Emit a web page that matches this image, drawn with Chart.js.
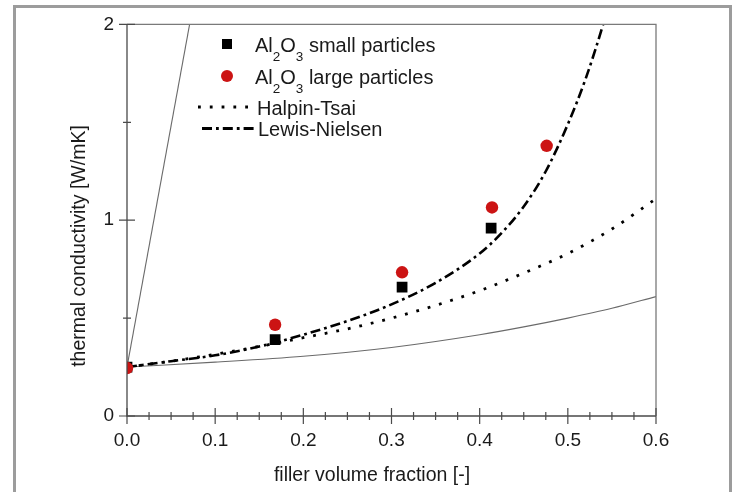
<!DOCTYPE html>
<html>
<head>
<meta charset="utf-8">
<script src="https://cdn.jsdelivr.net/npm/chart.js@4/dist/chart.umd.min.js"></script>
<style>
  html, body { margin: 0; padding: 0; background: #ffffff; }
  #wrap { width: 739px; height: 492px; }
</style>
</head>
<body>
<div id="wrap"><canvas id="c" width="739" height="492"></canvas></div>
<script>
// ---------- data ----------
const phiSmall = [0, 0.168, 0.312, 0.413];
const kSmall   = [0.25, 0.39, 0.658, 0.96];

const phiLarge = [0, 0.168, 0.312, 0.414, 0.476];
const kLarge   = [0.245, 0.466, 0.734, 1.065, 1.38];

const phiHT = [0, 0.05, 0.1, 0.15, 0.2, 0.25, 0.3, 0.35, 0.4, 0.45, 0.5, 0.55, 0.6];
const kHT   = [0.25, 0.28, 0.315, 0.355, 0.40, 0.445, 0.50, 0.565, 0.64, 0.73, 0.83, 0.955, 1.11];

const phiLN = [0, 0.05, 0.1, 0.15, 0.2, 0.25, 0.3, 0.35, 0.4, 0.425, 0.45, 0.475, 0.5, 0.52, 0.54, 0.56];
const kLN   = [0.25, 0.28, 0.31, 0.355, 0.415, 0.485, 0.57, 0.68, 0.83, 0.935, 1.07, 1.25, 1.49, 1.72, 2.0, 2.33];

const phiUpper = [0, 0.071];
const kUpper   = [0.25, 2.0];

const phiLower = [0, 0.1, 0.2, 0.3, 0.4, 0.45, 0.5, 0.55, 0.6];
const kLower   = [0.25, 0.275, 0.305, 0.35, 0.415, 0.455, 0.50, 0.55, 0.61];

const xMajorTicks = [0, 0.1, 0.2, 0.3, 0.4, 0.5, 0.6];
const xMinorTicks = [0.025, 0.05, 0.075, 0.125, 0.15, 0.175, 0.225, 0.25, 0.275,
                     0.325, 0.35, 0.375, 0.425, 0.45, 0.475, 0.525, 0.55, 0.575];
const yMajorTicks = [0, 1, 2];
const yMinorTicks = [0.5, 1.5];

const xTitle = 'filler volume fraction [-]';
const yTitle = 'thermal conductivity [W/mK]';

// legend labels: parts [text, isSubscript]
const legendSmall = [['Al', false], ['2', true], ['O', false], ['3', true], [' small particles', false]];
const legendLarge = [['Al', false], ['2', true], ['O', false], ['3', true], [' large particles', false]];
const legendHT = 'Halpin-Tsai';
const legendLN = 'Lewis-Nielsen';

// ---------- helpers ----------
const pts = (xs, ys) => xs.map((x, i) => ({ x: x, y: ys[i] }));
const FONT = '"Liberation Sans", Arial, Helvetica, sans-serif';
const TXT = '#1a1a1a';
const AXIS = '#4a4a4a';
const RED = '#cc1414';
const HT_DASH = [2.8, 9];
const LN_DASH = [10, 4, 2.8, 4];

const decorPlugin = {
  id: 'decor',
  beforeDraw(chart) {
    const ctx = chart.ctx;
    ctx.save();
    ctx.fillStyle = '#ffffff';
    ctx.fillRect(0, 0, chart.width, chart.height);
    ctx.strokeStyle = '#9c9c9c';
    ctx.lineWidth = 3;
    ctx.strokeRect(14.5, 6.5, 716, 500);
    ctx.restore();
  },
  beforeDatasetsDraw(chart) {
    const a = chart.chartArea;
    chart.ctx.save();
    chart.ctx.beginPath();
    chart.ctx.rect(a.left, a.top, a.right - a.left, a.bottom - a.top);
    chart.ctx.clip();
  },
  afterDatasetsDraw(chart) {
    chart.ctx.restore();
  },
  afterDraw(chart) {
    const ctx = chart.ctx;
    const a = chart.chartArea;
    const xs = chart.scales.x, ys = chart.scales.y;
    ctx.save();
    // axes lines
    ctx.strokeStyle = AXIS;
    ctx.lineWidth = 1.3;
    ctx.beginPath();
    ctx.moveTo(a.left, a.top); ctx.lineTo(a.left, a.bottom); ctx.lineTo(a.right, a.bottom);
    ctx.stroke();
    // top and right frame of plot
    ctx.strokeStyle = '#7a7a7a';
    ctx.lineWidth = 1.3;
    ctx.beginPath();
    ctx.moveTo(a.left, a.top); ctx.lineTo(a.right, a.top); ctx.lineTo(a.right, a.bottom);
    ctx.stroke();
    // crossing ticks
    ctx.strokeStyle = AXIS;
    ctx.lineWidth = 1.2;
    ctx.beginPath();
    xMajorTicks.forEach(v => { const p = xs.getPixelForValue(v); ctx.moveTo(p, a.bottom - 8); ctx.lineTo(p, a.bottom + 8); });
    xMinorTicks.forEach(v => { const p = xs.getPixelForValue(v); ctx.moveTo(p, a.bottom - 4); ctx.lineTo(p, a.bottom + 4); });
    yMajorTicks.forEach(v => { const p = ys.getPixelForValue(v); ctx.moveTo(a.left - 8, p); ctx.lineTo(a.left + 8, p); });
    yMinorTicks.forEach(v => { const p = ys.getPixelForValue(v); ctx.moveTo(a.left - 4, p); ctx.lineTo(a.left + 4, p); });
    ctx.stroke();

    // axis titles
    ctx.fillStyle = TXT;
    ctx.font = '19.5px ' + FONT;
    ctx.textAlign = 'center';
    ctx.textBaseline = 'middle';
    ctx.fillText(xTitle, 372, 476);
    ctx.translate(80, 246);
    ctx.rotate(-Math.PI / 2);
    ctx.fillText(yTitle, 0, 0);
    ctx.setTransform(1, 0, 0, 1, 0, 0);

    // legend
    const main = '20px ' + FONT, sub = '13.5px ' + FONT;
    const drawParts = (parts, x, y) => {
      ctx.textAlign = 'left';
      ctx.textBaseline = 'alphabetic';
      parts.forEach(([t, s]) => {
        ctx.font = s ? sub : main;
        ctx.fillText(t, x, s ? y + 9 : y);
        x += ctx.measureText(t).width;
      });
    };
    // square
    ctx.fillStyle = '#000000';
    ctx.fillRect(227 - 5, 44 - 5, 10, 10);
    ctx.fillStyle = TXT;
    drawParts(legendSmall, 255, 51.5);
    // circle
    ctx.fillStyle = RED;
    ctx.beginPath(); ctx.arc(227, 76, 6, 0, Math.PI * 2); ctx.fill();
    ctx.fillStyle = TXT;
    drawParts(legendLarge, 255, 83.5);
    // line samples
    ctx.strokeStyle = '#000000';
    ctx.lineWidth = 2.8;
    ctx.setLineDash(HT_DASH);
    ctx.beginPath(); ctx.moveTo(198, 107); ctx.lineTo(254, 107); ctx.stroke();
    ctx.setLineDash(LN_DASH);
    ctx.beginPath(); ctx.moveTo(202, 128.5); ctx.lineTo(256, 128.5); ctx.stroke();
    ctx.setLineDash([]);
    ctx.fillStyle = TXT;
    drawParts([[legendHT, false]], 257, 115);
    drawParts([[legendLN, false]], 258, 136);
    ctx.restore();
  }
};

new Chart(document.getElementById('c'), {
  type: 'scatter',
  data: {
    datasets: [
      { label: 'Al2O3 large particles', data: pts(phiLarge, kLarge), order: 0, clip: 0,
        pointStyle: 'circle', pointRadius: 6.2, backgroundColor: RED, borderColor: RED, borderWidth: 0, showLine: false },
      { label: 'Al2O3 small particles', data: pts(phiSmall, kSmall), order: 1, clip: 0,
        pointStyle: 'rect', pointRadius: 7.6, backgroundColor: '#000000', borderColor: '#000000', borderWidth: 0, showLine: false },
      { label: 'Lewis-Nielsen', data: pts(phiLN, kLN), order: 2, showLine: true, pointRadius: 0,
        borderColor: '#000000', borderWidth: 2.6, borderDash: LN_DASH, cubicInterpolationMode: 'monotone' },
      { label: 'Halpin-Tsai', data: pts(phiHT, kHT), order: 3, showLine: true, pointRadius: 0,
        borderColor: '#000000', borderWidth: 2.8, borderDash: HT_DASH, cubicInterpolationMode: 'monotone' },
      { label: 'upper bound', data: pts(phiUpper, kUpper), order: 4, showLine: true, pointRadius: 0,
        borderColor: '#6a6a6a', borderWidth: 1.1 },
      { label: 'lower bound', data: pts(phiLower, kLower), order: 5, showLine: true, pointRadius: 0,
        borderColor: '#6a6a6a', borderWidth: 1.1, cubicInterpolationMode: 'monotone' }
    ]
  },
  options: {
    responsive: false,
    animation: false,
    layout: { padding: { left: 65, right: 83, top: 24, bottom: 1 } },
    plugins: { legend: { display: false }, tooltip: { enabled: false } },
    scales: {
      x: {
        type: 'linear', min: 0, max: 0.6,
        afterBuildTicks: s => { s.ticks = xMajorTicks.map(v => ({ value: v })); },
        afterFit: s => { s.height = 75; },
        ticks: { callback: v => Number(v).toFixed(1), font: { family: FONT, size: 19 }, color: TXT, padding: 13, maxRotation: 0, autoSkip: false },
        grid: { display: false, drawTicks: false },
        border: { display: false }
      },
      y: {
        type: 'linear', min: 0, max: 2,
        afterBuildTicks: s => { s.ticks = yMajorTicks.map(v => ({ value: v })); },
        afterFit: s => { s.width = 62; },
        ticks: { callback: v => String(v), font: { family: FONT, size: 19 }, color: TXT, padding: 13, autoSkip: false },
        grid: { display: false, drawTicks: false },
        border: { display: false }
      }
    }
  },
  plugins: [decorPlugin]
});
</script>
</body>
</html>
